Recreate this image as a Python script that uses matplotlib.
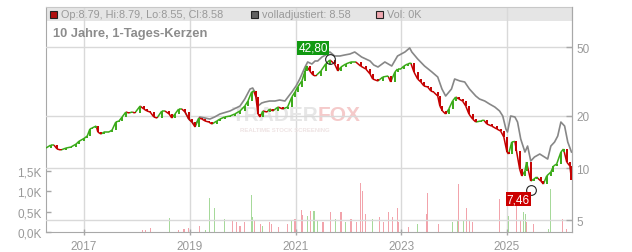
import matplotlib
matplotlib.use('Agg')
import matplotlib.pyplot as plt
import numpy as np
from matplotlib.patches import Rectangle
from matplotlib.collections import LineCollection
from matplotlib.ticker import FixedLocator, NullLocator, FixedFormatter

plt.rcParams['font.family'] = ['Liberation Sans', 'DejaVu Sans']

# ---------------- data ----------------
t_close = [2016.28, 2016.37, 2016.43, 2016.49, 2016.56, 2016.66, 2016.75, 2016.85, 2016.90, 2017.00,
           2017.06, 2017.11, 2017.15, 2017.23, 2017.26, 2017.32, 2017.38, 2017.47, 2017.53, 2017.60,
           2017.66, 2017.72, 2017.79, 2017.85, 2017.91, 2017.96, 2018.06, 2018.13, 2018.19, 2018.25,
           2018.32, 2018.38, 2018.47, 2018.53, 2018.61, 2018.66, 2018.72, 2018.79, 2018.85, 2018.91,
           2018.98, 2019.04, 2019.10, 2019.17, 2019.23, 2019.29, 2019.36, 2019.42, 2019.51, 2019.57,
           2019.66, 2019.76, 2019.85, 2019.95, 2020.04, 2020.10, 2020.17, 2020.21, 2020.25, 2020.29,
           2020.33, 2020.38, 2020.46, 2020.51, 2020.57, 2020.67, 2020.76, 2020.85, 2020.93, 2020.99,
           2021.04, 2021.12, 2021.18, 2021.21, 2021.27, 2021.33, 2021.38, 2021.48, 2021.57, 2021.65,
           2021.74, 2021.80, 2021.86, 2021.95, 2022.05, 2022.14, 2022.23, 2022.33, 2022.41, 2022.46,
           2022.56, 2022.65, 2022.75, 2022.80, 2022.88, 2022.93, 2022.99, 2023.05, 2023.12, 2023.18,
           2023.24, 2023.31, 2023.37, 2023.43, 2023.50, 2023.56, 2023.61, 2023.69, 2023.73, 2023.78,
           2023.84, 2023.90, 2023.97, 2024.03, 2024.09, 2024.16, 2024.22, 2024.28, 2024.35, 2024.41,
           2024.50, 2024.56, 2024.62, 2024.71, 2024.81, 2024.88, 2024.94, 2025.00, 2025.03, 2025.09,
           2025.15, 2025.18, 2025.24, 2025.28, 2025.34, 2025.37, 2025.45, 2025.51, 2025.56, 2025.64,
           2025.69, 2025.75, 2025.83, 2025.88, 2025.94, 2026.02, 2026.07, 2026.13, 2026.19, 2026.22]
close = [13.05, 13.58, 13.58, 12.88, 12.71, 13.05, 13.22, 13.76, 14.25, 14.83,
         15.31, 16.80, 17.03, 17.49, 16.15, 15.72, 16.15, 16.15, 16.58, 18.44,
         18.69, 19.72, 21.07, 20.79, 21.07, 20.79, 22.82, 21.93, 21.36, 21.07,
         19.72, 19.45, 21.36, 21.36, 20.52, 19.45, 20.52, 21.93, 21.93, 21.07,
         19.19, 18.44, 17.26, 19.45, 19.19, 18.69, 18.44, 17.96, 18.69, 19.19,
         19.72, 19.98, 20.52, 21.36, 22.82, 24.39, 27.50, 27.87, 25.73, 20.52,
         19.72, 21.36, 21.07, 21.93, 21.36, 22.52, 21.93, 22.52, 25.73, 27.50,
         29.39, 31.84, 36.37, 38.86, 36.37, 34.48, 34.02, 36.37, 39.92, 42.10,
         39.92, 36.37, 38.35, 39.92, 41.00, 41.00, 38.86, 37.34, 34.94, 32.69,
         31.84, 33.57, 34.02, 31.42, 35.89, 37.34, 37.34, 38.86, 39.92, 40.45,
         35.89, 32.69, 31.42, 29.79, 29.39, 27.87, 27.50, 26.07, 22.82, 21.36,
         20.52, 21.93, 24.39, 25.73, 25.05, 24.39, 22.82, 20.52, 19.19, 18.44,
         18.69, 18.94, 17.96, 17.49, 16.80, 16.36, 15.11, 12.37, 12.05, 14.13,
         14.25, 12.54, 9.87, 8.99, 9.61, 10.83, 8.41, 8.64, 8.87, 8.41,
         8.08, 8.99, 9.48, 10.27, 10.55, 12.37, 12.88, 10.83, 10.27, 8.58]

t_adj = [2018.91, 2018.98, 2019.04, 2019.10, 2019.19, 2019.29, 2019.38, 2019.47, 2019.57, 2019.76,
         2019.95, 2020.04, 2020.14, 2020.19, 2020.25, 2020.29, 2020.36, 2020.42, 2020.51, 2020.61,
         2020.70, 2020.80, 2020.93, 2021.01, 2021.08, 2021.18, 2021.23, 2021.31, 2021.37, 2021.42,
         2021.50, 2021.57, 2021.65, 2021.74, 2021.84, 2021.93, 2022.03, 2022.12, 2022.25, 2022.41,
         2022.48, 2022.56, 2022.69, 2022.82, 2022.93, 2023.07, 2023.16, 2023.20, 2023.31, 2023.44,
         2023.58, 2023.69, 2023.77, 2023.84, 2023.95, 2024.01, 2024.11, 2024.20, 2024.29, 2024.41,
         2024.48, 2024.58, 2024.67, 2024.77, 2024.86, 2024.92, 2024.98, 2025.01, 2025.07, 2025.15,
         2025.20, 2025.26, 2025.34, 2025.39, 2025.45, 2025.52, 2025.62, 2025.71, 2025.77, 2025.83,
         2025.90, 2025.96, 2026.02, 2026.09, 2026.15, 2026.22]
adj = [21.07, 19.19, 18.44, 17.73, 19.72, 19.45, 19.19, 19.72, 20.52, 21.36,
       22.82, 25.05, 28.62, 29.00, 26.78, 22.82, 23.75, 24.07, 24.39, 24.39,
       24.72, 24.39, 27.50, 29.79, 32.69, 38.35, 41.00, 39.92, 41.55, 41.55,
       43.81, 45.00, 46.83, 44.40, 44.40, 45.00, 45.60, 46.83, 43.81, 41.55,
       39.39, 38.35, 41.00, 38.86, 44.40, 46.83, 49.39, 46.83, 42.70, 38.86,
       35.89, 33.57, 28.62, 26.07, 28.62, 32.69, 31.84, 31.42, 28.62, 26.07,
       25.05, 24.39, 23.44, 22.52, 21.36, 19.98, 16.80, 16.15, 19.98, 19.72,
       18.44, 14.71, 12.37, 13.40, 10.98, 11.58, 12.05, 11.58, 11.27, 13.40,
       14.13, 15.31, 18.44, 17.49, 14.13, 12.37]

t_vol = [2018.11, 2018.17, 2018.26, 2018.61, 2018.78, 2018.89, 2018.98, 2019.19, 2019.30, 2019.38,
         2019.47, 2019.66, 2019.81, 2019.89, 2019.95, 2020.04, 2020.16, 2020.19, 2020.23, 2020.33,
         2020.38, 2020.50, 2020.55, 2020.67, 2020.84, 2020.93, 2020.99, 2021.12, 2021.14, 2021.23,
         2021.29, 2021.35, 2021.42, 2021.52, 2021.67, 2021.76, 2021.86, 2021.95, 2022.05, 2022.16,
         2022.23, 2022.27, 2022.33, 2022.46, 2022.59, 2022.67, 2022.75, 2022.84, 2022.93, 2022.95,
         2023.14, 2023.31, 2023.48, 2023.50, 2023.71, 2023.97, 2024.07, 2024.09, 2024.18, 2024.24,
         2024.29, 2024.35, 2024.86, 2025.03, 2025.18, 2025.26, 2025.32, 2025.35, 2025.37, 2025.51,
         2025.79, 2025.83, 2026.05, 2026.13]
vol_k = [0.05, 0.05, 0.10, 0.34, 0.05, 0.07, 0.10, 0.15, 0.05, 0.84,
         0.59, 0.32, 0.27, 0.25, 0.15, 0.25, 0.91, 0.37, 0.27, 0.20,
         0.15, 0.25, 0.20, 0.12, 0.20, 0.27, 0.32, 0.54, 0.42, 0.39,
         0.52, 0.52, 0.27, 0.25, 0.49, 0.32, 0.49, 0.25, 0.32, 0.25,
         1.21, 1.01, 0.44, 0.32, 0.37, 0.25, 0.49, 0.37, 0.59, 0.25,
         0.12, 0.20, 0.44, 0.96, 0.20, 0.25, 0.27, 1.18, 0.30, 0.59,
         0.30, 0.25, 0.82, 0.39, 0.89, 0.27, 0.49, 0.44, 0.25, 0.20,
         0.07, 1.06, 0.32, 0.07]
vol_up = [0, 0, 0, 1, 0, 0, 0, 0, 1, 1,
          1, 1, 0, 0, 0, 0, 1, 1, 0, 0,
          1, 0, 0, 0, 0, 1, 0, 0, 0, 1,
          0, 1, 1, 0, 0, 1, 0, 1, 0, 0,
          0, 0, 0, 1, 0, 0, 0, 0, 0, 0,
          0, 1, 0, 0, 0, 1, 1, 0, 1, 0,
          0, 0, 0, 1, 0, 0, 1, 1, 0, 0,
          1, 1, 0, 0]

year_ticks = [2017, 2019, 2021, 2023, 2025]
price_ticks = [5, 10, 20, 50]
vol_ticks = [0.0, 0.5, 1.0, 1.5]
vol_labels = ['0,0K', '0,5K', '1,0K', '1,5K']
high_t, high_v, high_label = 2021.65, 42.80, '42,80'
low_t, low_v, low_label = 2025.45, 7.46, '7,46'
x_range = (2016.28, 2026.23)
price_range = (4.27, 85.2)
vol_range = (0.0, 5.54)

header_ohlc = 'Op:8.79, Hi:8.79, Lo:8.55, Cl:8.58'
header_adj = 'volladjustiert: 8.58'
header_vol = 'Vol: 0K'
title = '10 Jahre, 1-Tages-Kerzen'

# ---------------- styles ----------------
UP = '#3aaa18'
DOWN = '#c40000'
VOL_UP = '#a6d99a'
VOL_DOWN = '#f2a3ab'
GRID = '#d9d9d9'
TXT = '#999999'
SPINE = '#a8a8a8'

fig = plt.figure(figsize=(6.32, 2.53), dpi=100)
W, H = 632, 253
axv = fig.add_axes([46 / W, 20 / H, 526 / W, 225 / H])
axp = axv.twinx()
axv.set_zorder(1)
axp.set_zorder(2)
axp.patch.set_visible(False)

# volume axis (left)
axv.set_xlim(*x_range)
axv.set_ylim(*vol_range)
axv.set_axisbelow(True)
axv.bar(t_vol, vol_k, width=0.02,
        color=[VOL_UP if u else VOL_DOWN for u in vol_up], linewidth=0, zorder=1)
axv.yaxis.set_major_locator(FixedLocator(vol_ticks))
axv.yaxis.set_major_formatter(FixedFormatter(vol_labels))
axv.set_xticks(year_ticks)
axv.set_xticklabels([str(y) for y in year_ticks])
axv.grid(axis='x', color=GRID, lw=1)
axv.tick_params(axis='y', direction='in', length=3.5, width=1, color=SPINE,
                labelcolor=TXT, labelsize=8.5, pad=3)
axv.tick_params(axis='x', direction='inout', length=5, width=1, color=SPINE,
                labelcolor=TXT, labelsize=8.5, pad=3)
for s in axv.spines.values():
    s.set_color(SPINE)
axv.spines['top'].set_color('#c8c8c8')

# header band
axv.add_patch(Rectangle((0, 1 - 14 / 225), 1, 14 / 225, transform=axv.transAxes,
                        facecolor='#e5e5e5', edgecolor='none', zorder=0.2))

# price axis (right, log)
axp.set_yscale('log')
axp.set_ylim(*price_range)
axp.yaxis.set_major_locator(FixedLocator(price_ticks))
axp.yaxis.set_major_formatter(FixedFormatter([str(p) for p in price_ticks]))
axp.yaxis.set_minor_locator(NullLocator())
axp.grid(axis='y', color=GRID, lw=1, zorder=0)
axp.tick_params(axis='y', direction='in', length=4, width=1, color=SPINE,
                labelcolor=TXT, labelsize=8.5, pad=3)
for s in axp.spines.values():
    s.set_visible(False)
axp.spines['right'].set_visible(True)
axp.spines['right'].set_color(SPINE)

# watermark
axp.text((318 - 46) / 526, 0.522, 'TRADER', transform=axp.transAxes, ha='right', va='center',
         fontsize=15, fontweight='bold', color='#e6e6e6', zorder=0.3)
axp.text((318 - 46) / 526, 0.522, 'FOX', transform=axp.transAxes, ha='left', va='center',
         fontsize=15, fontweight='bold', color='#f5caca', zorder=0.3)
axp.text((240 - 46) / 526, 0.455, 'REALTIME STOCK SCREENING', transform=axp.transAxes,
         ha='left', va='center', fontsize=4.3, fontweight='bold', color='#eee3e3', zorder=0.3)

# adjusted line
axp.plot(t_adj, adj, color='#878787', lw=1.2, zorder=3)

# candles (close-to-close segments, coloured by direction)
tc = np.array(t_close)
cc = np.array(close)
up = cc[1:] >= cc[:-1]
cols = [UP if u else DOWN for u in up]
segs = [[(tc[i], cc[i]), (tc[i + 1], cc[i + 1])] for i in range(len(tc) - 1)]
axp.add_collection(LineCollection(segs, colors=cols, linewidths=1.1, zorder=4))
axp.vlines(tc[1:], np.minimum(cc[:-1], cc[1:]), np.maximum(cc[:-1], cc[1:]),
           colors=cols, lw=1.4, zorder=4)

# high / low markers
axp.plot([high_t], [high_v], marker='o', ms=7, mfc='none', mec='#222222', mew=0.8, zorder=5)
axp.plot([low_t], [low_v], marker='o', ms=7, mfc='none', mec='#222222', mew=0.8, zorder=5)
axp.annotate(high_label, (high_t, high_v), xytext=(-2, 11), textcoords='offset pixels',
             ha='right', va='center', fontsize=8.5, color='white', zorder=6,
             bbox=dict(boxstyle='square,pad=0.08', fc='#119911', ec='none'))
axp.annotate(low_label, (low_t, low_v), xytext=(-1, -9), textcoords='offset pixels',
             ha='right', va='center', fontsize=8.5, color='white', zorder=6,
             bbox=dict(boxstyle='square,pad=0.08', fc='#cc0000', ec='none'))

# header legend
yh = 1 - 7 / 225
sq_w, sq_h = 7 / 526, 7 / 225
for x0, fc, txt in [(50, '#b01010', header_ohlc), (251, '#606060', header_adj),
                    (376, '#f0a8b0', header_vol)]:
    axp.add_patch(Rectangle(((x0 - 46) / 526, yh - sq_h / 2), sq_w, sq_h,
                            transform=axp.transAxes, facecolor=fc, edgecolor='#222222',
                            lw=0.8, zorder=6, clip_on=False))
    axp.text((x0 + 11 - 46) / 526, yh, txt, transform=axp.transAxes, ha='left', va='center',
             fontsize=7.8, color=TXT, zorder=6)
axp.text((53 - 46) / 526, 1 - 26 / 225, title, transform=axp.transAxes, ha='left',
         va='center', fontsize=9.3, fontweight='bold', color='#8c8c8c', zorder=6)

fig.savefig('out.png', dpi=100)
